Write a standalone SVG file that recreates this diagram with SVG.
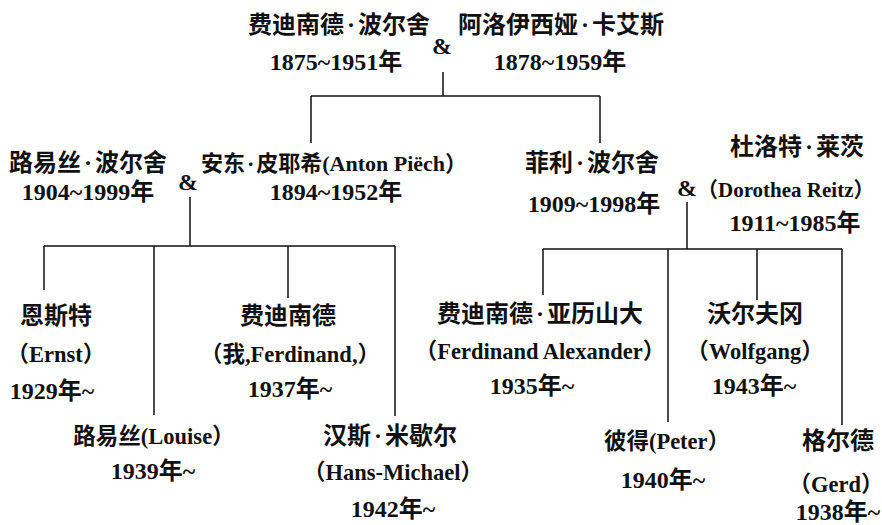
<svg xmlns="http://www.w3.org/2000/svg" width="882" height="525" viewBox="0 0 882 525">
<style>
text{font-family:"Liberation Serif","Noto Sans CJK SC",serif;font-size:24px;font-weight:bold;fill:#111;text-anchor:middle}
text.l{font-size:22.5px}
text.s{font-size:22px}
text.d{font-size:21px;text-anchor:start}
.c{stroke:#111;stroke-width:1.5;fill:none}
</style>
<rect width="882" height="525" fill="#fff"/>
<g id="connectors" class="c">
<path d="M443,72V96M311,96H600M311,96V143M600,96V143"/>
<path d="M190,197V246M44,246H395M44,246V290M154,246V415M288,246V298M395,246V416"/>
<path d="M687,202V249M543,249H842M543,249V295M668,249V422M757,249V300M842,249V425"/>
</g>
<g id="ferdinand-porsche"><text x="339" y="33">费迪南德<tspan dx="3">·</tspan><tspan dx="3">波尔舍</tspan></text><text x="336" y="70">1875~1951年</text></g>
<g id="couple1-amp"><text x="442" y="54">&amp;</text></g>
<g id="aloisia"><text x="561" y="33">阿洛伊西娅<tspan dx="3">·</tspan><tspan dx="3">卡艾斯</tspan></text><text x="560" y="70">1878~1959年</text></g>
<g id="louise-porsche"><text x="88" y="171">路易丝<tspan dx="3">·</tspan><tspan dx="3">波尔舍</tspan></text><text x="88" y="200">1904~1999年</text></g>
<g id="couple2-amp"><text x="188" y="190">&amp;</text></g>
<g id="anton-piech"><text class="s" x="334" y="171">安东<tspan dx="2">·</tspan><tspan dx="2">皮耶希(Anton Piëch）</tspan></text><text x="336" y="200">1894~1952年</text></g>
<g id="ferry-porsche"><text x="592" y="171">菲利<tspan dx="3">·</tspan><tspan dx="3">波尔舍</tspan></text><text x="594" y="212">1909~1998年</text></g>
<g id="couple3-amp"><text x="687" y="196">&amp;</text></g>
<g id="dorothea"><text x="797" y="155">杜洛特<tspan dx="3">·</tspan><tspan dx="3">莱茨</tspan></text><text class="d" x="697" y="197">（Dorothea Reitz）</text><text x="795" y="231">1911~1985年</text></g>
<g id="ernst"><text x="56" y="324">恩斯特</text><text class="l" x="56" y="362">（Ernst）</text><text x="52" y="399">1929年~</text></g>
<g id="ferdinand"><text x="288" y="324">费迪南德</text><text class="l" x="290" y="362">（我,Ferdinand,）</text><text x="290" y="397">1937年~</text></g>
<g id="louise"><text class="l" x="154" y="444">路易丝(Louise）</text><text x="153" y="479">1939年~</text></g>
<g id="hans-michael"><text x="390" y="444">汉斯<tspan dx="3">·</tspan><tspan dx="3">米歇尔</tspan></text><text class="l" x="393" y="480">（Hans-Michael）</text><text x="393" y="517">1942年~</text></g>
<g id="ferdinand-alexander"><text x="540" y="322">费迪南德<tspan dx="3">·</tspan><tspan dx="3">亚历山大</tspan></text><text class="l" x="540" y="359">（Ferdinand Alexander）</text><text x="532" y="394">1935年~</text></g>
<g id="wolfgang"><text x="755" y="322">沃尔夫冈</text><text class="l" x="755" y="359">（Wolfgang）</text><text x="754" y="394">1943年~</text></g>
<g id="peter"><text class="l" x="667" y="449">彼得(Peter）</text><text x="663" y="488">1940年~</text></g>
<g id="gerd"><text x="838" y="449">格尔德</text><text class="l" x="836" y="492">（Gerd）</text><text x="838" y="520">1938年~</text></g>
</svg>
